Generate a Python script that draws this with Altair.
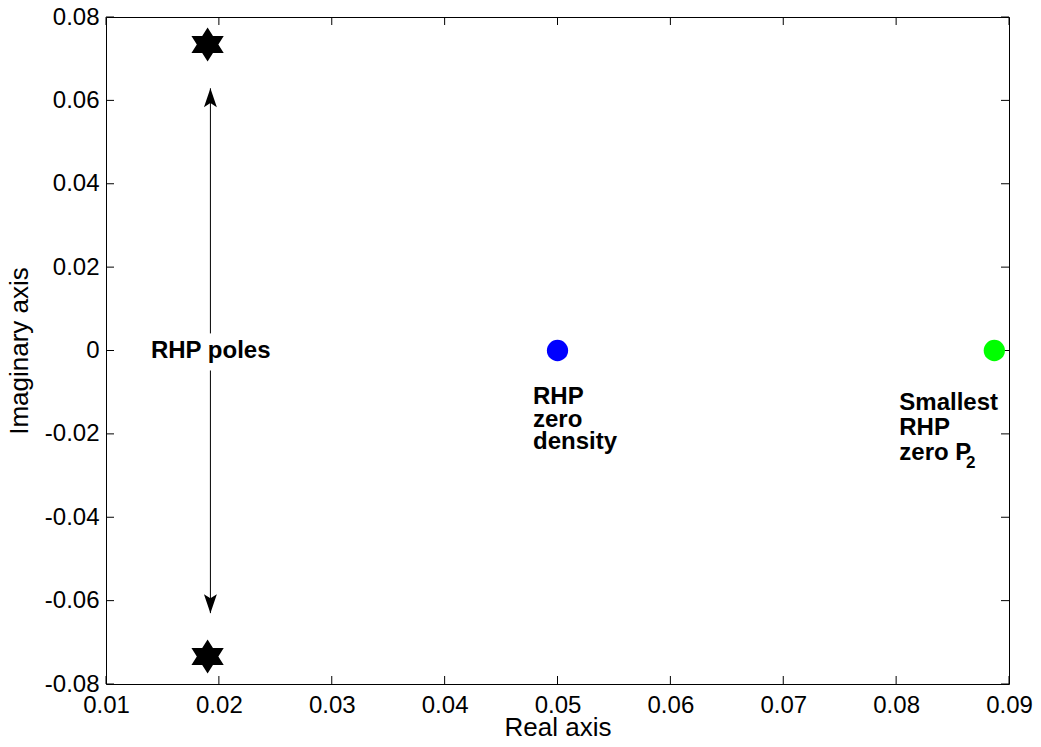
import altair as alt
import pandas as pd

# ---- data ----
x_ticks = [0.01, 0.02, 0.03, 0.04, 0.05, 0.06, 0.07, 0.08, 0.09]
y_ticks = [-0.08, -0.06, -0.04, -0.02, 0.0, 0.02, 0.04, 0.06, 0.08]

pole_x = [0.019, 0.019]
pole_y = [0.0734, -0.0734]

density_zero_x = [0.0500]
density_zero_y = [0.0]

p2_zero_x = [0.0887]
p2_zero_y = [0.0]

arrow_x = [0.01925, 0.01925]
arrow_y_start = [0.0629, -0.0048]
arrow_y_end = [0.0041, -0.0630]
arrow_head_up_y = [0.0629]
arrow_head_down_y = [-0.0630]

poles_label = "RHP poles"
poles_label_x = [0.01928]
poles_label_y = [-0.0017]

density_lines = ["RHP", "zero", "density"]
density_label_x = [0.04783]
density_label_y = [-0.01295]

p2_lines = ["Smallest", "RHP", "zero P"]
p2_label_x = [0.08028]
p2_label_y = [-0.01439]
p2_sub = "2"
p2_sub_x = [0.0862]
p2_sub_y = [-0.0283]

W, H = 903, 667
FONT = "Liberation Sans"

xscale = alt.Scale(domain=[0.01, 0.09], nice=False, zero=False)
yscale = alt.Scale(domain=[-0.08, 0.08], nice=False, zero=False)

xaxis = alt.Axis(
    values=x_ticks, labelExpr="format(datum.value, '.2f')",
    grid=False, domain=False, ticks=False, tickSize=0,
    labelFont=FONT, labelFontSize=24, labelColor="black",
    labelBaseline="alphabetic", labelPadding=28,
    labelFlush=False, labelOverlap=False, labelBound=False,
    title="Real axis", titleFont=FONT, titleFontSize=26,
    titleFontWeight="normal", titleColor="black",
    titleX=W / 2, titleY=51, titleBaseline="alphabetic", titleAlign="center",
)
yaxis = alt.Axis(
    values=y_ticks,
    labelExpr="datum.value == 0 ? '0' : (datum.value < 0 ? '-' : '') + format(abs(datum.value), '.2f')",
    grid=False, domain=False, ticks=False, tickSize=0,
    labelFont=FONT, labelFontSize=24, labelColor="black",
    labelPadding=7, labelAlign="right", labelBaseline="middle",
    labelFlush=False, labelOverlap=False, labelBound=False,
    title="Imaginary axis", titleFont=FONT, titleFontSize=26,
    titleFontWeight="normal", titleColor="black",
    titleAngle=270, titleX=-79, titleY=H / 2, titleBaseline="alphabetic",
    titleAlign="center",
)


def X(field="x"):
    return alt.X(f"{field}:Q", scale=xscale, axis=xaxis)


def Y(field="y"):
    return alt.Y(f"{field}:Q", scale=yscale, axis=yaxis)


hexagram = ("M0,-1 L0.317,-0.5 L0.95,-0.5 L0.633,0 L0.95,0.5 L0.317,0.5 "
            "L0,1 L-0.317,0.5 L-0.95,0.5 L-0.633,0 L-0.95,-0.5 L-0.317,-0.5 Z")
head_up = "M0,0 L0.34,1 L0,0.78 L-0.34,1 Z"
head_down = "M0,0 L0.34,-1 L0,-0.78 L-0.34,-1 Z"

df_poles = pd.DataFrame({"x": pole_x, "y": pole_y})
df_dz = pd.DataFrame({"x": density_zero_x, "y": density_zero_y})
df_p2 = pd.DataFrame({"x": p2_zero_x, "y": p2_zero_y})
df_arrow = pd.DataFrame({"x": arrow_x, "y": arrow_y_start, "y2": arrow_y_end})
df_hu = pd.DataFrame({"x": [arrow_x[0]], "y": arrow_head_up_y})
df_hd = pd.DataFrame({"x": [arrow_x[1]], "y": arrow_head_down_y})
df_xt = pd.DataFrame({"x": x_ticks})
df_yt = pd.DataFrame({"y": y_ticks})

poles = alt.Chart(df_poles).mark_point(
    shape=hexagram, filled=True, color="black", size=1156, opacity=1, strokeWidth=0
).encode(x=X(), y=Y())

dz = alt.Chart(df_dz).mark_circle(color="#0000ff", size=452, opacity=1).encode(x=X(), y=Y())
p2 = alt.Chart(df_p2).mark_circle(color="#00ff00", size=452, opacity=1).encode(x=X(), y=Y())

arrows = alt.Chart(df_arrow).mark_rule(color="black", strokeWidth=1).encode(
    x=X(), y=Y(), y2="y2:Q")
hu = alt.Chart(df_hu).mark_point(shape=head_up, filled=True, color="black",
                                 size=1444, opacity=1, strokeWidth=0).encode(x=X(), y=Y())
hd = alt.Chart(df_hd).mark_point(shape=head_down, filled=True, color="black",
                                 size=1444, opacity=1, strokeWidth=0).encode(x=X(), y=Y())

txt_style = dict(font=FONT, fontSize=24, fontWeight="bold", color="black")
t_poles = alt.Chart(pd.DataFrame({"x": poles_label_x, "y": poles_label_y})).mark_text(
    text=poles_label, align="center", baseline="alphabetic", **txt_style
).encode(x=X(), y=Y())
t_dens = alt.Chart(pd.DataFrame({"x": density_label_x, "y": density_label_y})).mark_text(
    text=density_lines, align="left", baseline="alphabetic", lineHeight=22.5, **txt_style
).encode(x=X(), y=Y())
t_p2 = alt.Chart(pd.DataFrame({"x": p2_label_x, "y": p2_label_y})).mark_text(
    text=p2_lines, align="left", baseline="alphabetic", lineHeight=25, **txt_style
).encode(x=X(), y=Y())
t_sub = alt.Chart(pd.DataFrame({"x": p2_sub_x, "y": p2_sub_y})).mark_text(
    text=p2_sub, align="left", baseline="alphabetic", font=FONT, fontSize=17,
    fontWeight="bold", color="black"
).encode(x=X(), y=Y())

TL = 8
tick_b = alt.Chart(df_xt).mark_rule(color="black").encode(
    x=X(), y=alt.value(H), y2=alt.value(H - TL))
tick_t = alt.Chart(df_xt).mark_rule(color="black").encode(
    x=X(), y=alt.value(0), y2=alt.value(TL))
tick_l = alt.Chart(df_yt).mark_rule(color="black").encode(
    y=Y(), x=alt.value(0), x2=alt.value(TL))
tick_r = alt.Chart(df_yt).mark_rule(color="black").encode(
    y=Y(), x=alt.value(W), x2=alt.value(W - TL))

chart = alt.layer(
    tick_b, tick_t, tick_l, tick_r,
    arrows, hu, hd, poles, dz, p2, t_poles, t_dens, t_p2, t_sub
).properties(
    width=W, height=H,
    autosize=alt.AutoSizeParams(type="none"),
    padding={"left": 98, "top": 9, "right": 24, "bottom": 55},
    background="white",
).configure_view(stroke="black", strokeWidth=1)

chart.save("out.html", embed_options={"renderer": "svg", "actions": False})
